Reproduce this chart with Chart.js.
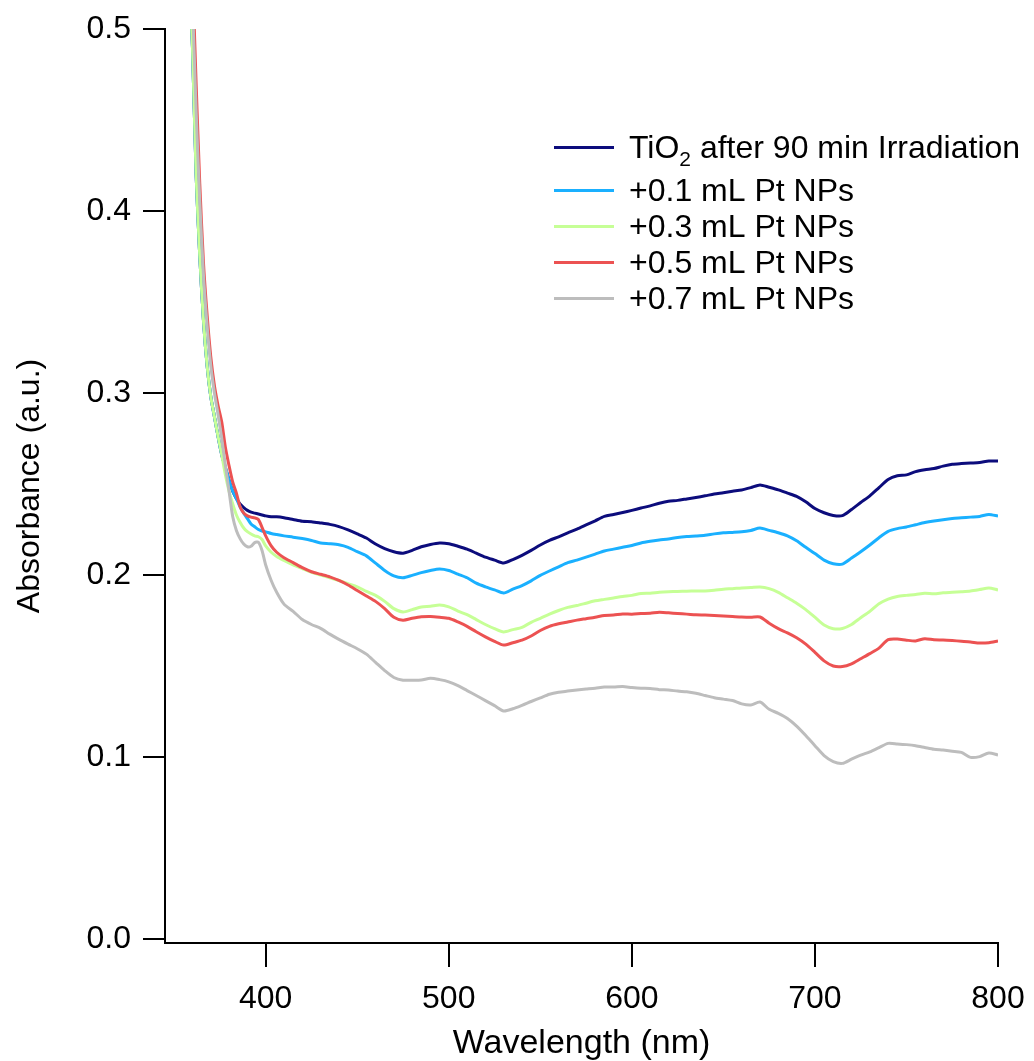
<!DOCTYPE html>
<html>
<head>
<meta charset="utf-8">
<script src="https://cdn.jsdelivr.net/npm/chart.js@4.4.1/dist/chart.umd.min.js"></script>
<style>
  html, body { margin: 0; padding: 0; background: #fff; overflow: hidden; }
  #wrap { width: 1034px; height: 1061px; position: relative; }
</style>
</head>
<body>
<div id="wrap"><canvas id="c" width="1034" height="1061"></canvas></div>
<script>
// ---------------- data ----------------
const wavelengths = [356,358,360,362,364,366,368,370,372,374,376,378,380,382,384,386,388,390,392,394,396,398,400,403,406,410,415,420,425,430,435,440,445,450,455,460,465,470,475,480,485,490,495,500,505,510,515,520,525,530,535,540,545,550,555,560,565,570,575,580,585,590,595,600,605,610,615,620,625,630,635,640,645,650,655,660,665,670,675,680,685,690,695,700,705,710,715,720,725,730,735,740,745,750,755,760,765,770,775,780,785,790,795,800];

const tio2 = [0.60,0.54,0.49,0.42,0.375,0.34,0.315,0.298,0.287,0.276,0.266,0.259,0.252,0.246,0.242,0.239,0.237,0.2355,0.2345,0.234,0.2335,0.233,0.2325,0.232,0.232,0.2315,0.2305,0.2295,0.2293,0.2286,0.2278,0.2266,0.2248,0.2226,0.2203,0.217,0.2145,0.2128,0.212,0.2135,0.2155,0.2168,0.2176,0.2172,0.2158,0.2142,0.212,0.2098,0.2082,0.2066,0.2085,0.2108,0.2135,0.2165,0.219,0.221,0.2232,0.2252,0.2275,0.2298,0.2322,0.2332,0.2343,0.2355,0.2368,0.238,0.2394,0.2405,0.241,0.2418,0.2426,0.2435,0.2445,0.2452,0.246,0.2467,0.248,0.2495,0.2482,0.2468,0.245,0.2432,0.2402,0.2365,0.2342,0.2327,0.2326,0.236,0.2398,0.2435,0.248,0.2525,0.2545,0.255,0.2568,0.2578,0.2585,0.2598,0.2608,0.2612,0.2615,0.2618,0.2626,0.2626];

const pt01 = [0.60,0.54,0.49,0.42,0.375,0.34,0.315,0.298,0.287,0.276,0.266,0.259,0.252,0.246,0.242,0.2375,0.234,0.231,0.228,0.2265,0.225,0.2242,0.2237,0.2228,0.2222,0.2215,0.2208,0.22,0.219,0.2176,0.2172,0.2166,0.2152,0.2128,0.2105,0.2065,0.2025,0.1995,0.1985,0.1998,0.2013,0.2025,0.2033,0.2025,0.2005,0.1985,0.1955,0.1935,0.1918,0.1901,0.1922,0.1942,0.1968,0.1998,0.2022,0.2045,0.2068,0.2082,0.2098,0.2115,0.2132,0.2142,0.2152,0.2162,0.2176,0.2185,0.2192,0.2198,0.2206,0.2211,0.2214,0.2218,0.2226,0.2232,0.2234,0.2237,0.2245,0.2258,0.2245,0.2232,0.2215,0.2188,0.2152,0.2118,0.2082,0.2062,0.206,0.2093,0.2128,0.2165,0.2205,0.224,0.2255,0.2264,0.2276,0.2288,0.2297,0.2304,0.231,0.2314,0.2318,0.2322,0.2333,0.2324];

const pt03 = [0.60,0.54,0.49,0.42,0.375,0.34,0.315,0.298,0.287,0.276,0.266,0.255,0.246,0.239,0.233,0.229,0.2258,0.2238,0.2225,0.2215,0.221,0.2195,0.216,0.2125,0.2102,0.208,0.2055,0.2035,0.2015,0.2,0.1985,0.197,0.1952,0.1935,0.191,0.1888,0.1855,0.1815,0.1797,0.181,0.1824,0.1828,0.1835,0.1825,0.1802,0.1782,0.1755,0.1728,0.1705,0.1687,0.17,0.1712,0.174,0.1762,0.1785,0.1805,0.1822,0.1832,0.1845,0.1858,0.1866,0.1874,0.1882,0.1888,0.1898,0.19,0.1905,0.1908,0.191,0.1911,0.1912,0.1912,0.1916,0.1922,0.1925,0.1929,0.1931,0.1934,0.1925,0.1905,0.1875,0.1845,0.181,0.1768,0.1725,0.1705,0.1706,0.1728,0.1765,0.18,0.1842,0.1868,0.1882,0.1888,0.1893,0.19,0.1897,0.1902,0.1905,0.1908,0.1912,0.192,0.1929,0.1918];

const pt05 = [0.62,0.58,0.53,0.47,0.415,0.372,0.343,0.32,0.304,0.293,0.284,0.27,0.26,0.251,0.245,0.2375,0.234,0.2325,0.2318,0.2314,0.2305,0.2262,0.2215,0.216,0.2125,0.2095,0.2068,0.204,0.2018,0.2004,0.199,0.197,0.1945,0.1915,0.1885,0.1855,0.1815,0.1768,0.1752,0.1762,0.177,0.1772,0.1768,0.1762,0.1742,0.1718,0.1688,0.166,0.1635,0.1615,0.1628,0.1642,0.1665,0.1695,0.1718,0.1732,0.1742,0.1752,0.176,0.1768,0.1778,0.178,0.1786,0.1785,0.1788,0.179,0.1795,0.1792,0.1788,0.1785,0.1781,0.178,0.1778,0.1775,0.1772,0.1769,0.1768,0.1769,0.1735,0.1705,0.1682,0.1655,0.162,0.1575,0.1528,0.15,0.1497,0.1512,0.154,0.1568,0.1598,0.1645,0.1648,0.1642,0.1638,0.165,0.1644,0.1643,0.164,0.1636,0.1632,0.1626,0.1628,0.1637];

const pt07 = [0.61,0.565,0.515,0.455,0.405,0.365,0.337,0.315,0.30,0.288,0.275,0.26,0.246,0.232,0.2245,0.22,0.217,0.2155,0.2158,0.2178,0.218,0.2135,0.2055,0.197,0.1905,0.184,0.18,0.1755,0.1728,0.1707,0.1675,0.1646,0.162,0.1595,0.1565,0.152,0.1475,0.1437,0.1422,0.1422,0.1423,0.1432,0.1425,0.1413,0.1392,0.1365,0.1338,0.131,0.1282,0.1253,0.1265,0.1284,0.1305,0.1325,0.1345,0.1356,0.1362,0.1368,0.1373,0.1378,0.1385,0.1384,0.1387,0.1382,0.1378,0.1376,0.137,0.1368,0.1362,0.1358,0.135,0.1338,0.1326,0.1318,0.131,0.1292,0.1286,0.1302,0.1262,0.124,0.1212,0.117,0.1118,0.1062,0.1008,0.0975,0.0965,0.0988,0.101,0.1028,0.1052,0.1075,0.1072,0.1068,0.1062,0.1052,0.1042,0.1038,0.1032,0.1025,0.0998,0.1002,0.1022,0.1011];

const seriesNames = ["TiO2 after 90 min Irradiation", "+0.1 mL Pt NPs", "+0.3 mL Pt NPs", "+0.5 mL Pt NPs", "+0.7 mL Pt NPs"];
const xTickValues = [400, 500, 600, 700, 800];
const yTickValues = [0.0, 0.1, 0.2, 0.3, 0.4, 0.5];

// ---------------- styling ----------------
const FONT = "'Liberation Sans', Arial, Helvetica, sans-serif";
const colors = ["#0c0c7c", "#1ab0ff", "#c6ff96", "#ec5252", "#bdbdbd"];
const seriesValues = [tio2, pt01, pt03, pt05, pt07];

Chart.defaults.font.family = FONT;
Chart.defaults.color = "#000";

const datasets = seriesValues.map((vals, i) => ({
  label: seriesNames[i],
  data: wavelengths.map((w, j) => ({ x: w, y: vals[j] })),
  borderColor: colors[i],
  backgroundColor: colors[i],
  borderWidth: 3,
  pointRadius: 0,
  tension: 0.25,
  fill: false,
  order: 5 - i
}));

// custom legend drawn inside plot area (with subscript)
const legendPlugin = {
  id: "insideLegend",
  afterDraw(chart) {
    const ctx = chart.ctx;
    ctx.save();
    const lineX0 = 554, lineX1 = 614, textX = 629;
    const baselines = [158, 201, 237, 273, 309];
    const mainFont = "32px " + FONT;
    ctx.textBaseline = "alphabetic";
    ctx.textAlign = "left";
    for (let i = 0; i < seriesNames.length; i++) {
      const b = baselines[i];
      ctx.strokeStyle = colors[i];
      ctx.lineWidth = 3;
      ctx.beginPath();
      ctx.moveTo(lineX0, b - 10.5);
      ctx.lineTo(lineX1, b - 10.5);
      ctx.stroke();
      ctx.fillStyle = "#000";
      ctx.font = mainFont;
      if (i === 0) {
        let x = textX;
        ctx.fillText("TiO", x, b);
        x += ctx.measureText("TiO").width;
        ctx.font = "21px " + FONT;
        ctx.fillText("2", x, b + 8);
        x += ctx.measureText("2").width;
        ctx.font = mainFont;
        ctx.fillText(" after 90 min Irradiation", x, b);
      } else {
        ctx.fillText(seriesNames[i], textX, b);
      }
    }
    ctx.restore();
  }
};

new Chart(document.getElementById("c"), {
  type: "line",
  data: { datasets },
  plugins: [legendPlugin],
  options: {
    responsive: false,
    animation: false,
    devicePixelRatio: 1,
    layout: { padding: { left: 0, top: 29, right: 36, bottom: 0 } },
    plugins: { legend: { display: false }, tooltip: { enabled: false } },
    scales: {
      x: {
        type: "linear",
        position: "bottom",
        min: 345,
        max: 800,
        afterBuildTicks: s => { s.ticks = xTickValues.map(v => ({ value: v })); },
        afterFit: s => { s.height = 118; s.paddingLeft = 0; s.paddingRight = 0; },
        border: { display: true, color: "#000", width: 2 },
        grid: { display: true, drawOnChartArea: false, drawTicks: true, tickLength: 24, color: "#000", lineWidth: 2 },
        ticks: { font: { size: 32 }, color: "#000", padding: 13, maxRotation: 0, autoSkip: false, callback: v => String(v) },
        title: { display: true, text: "Wavelength (nm)", color: "#000", font: { size: 34, lineHeight: 1.0 }, padding: { top: 0, bottom: 0 } }
      },
      y: {
        type: "linear",
        min: -0.0022,
        max: 0.5,
        afterBuildTicks: s => { s.ticks = yTickValues.map(v => ({ value: v })); },
        afterFit: s => { s.width = 165; s.paddingTop = 0; s.paddingBottom = 0; },
        border: { display: true, color: "#000", width: 2 },
        grid: { display: true, drawOnChartArea: false, drawTicks: true, tickLength: 22, color: "#000", lineWidth: 2 },
        ticks: { font: { size: 32 }, color: "#000", padding: 12, autoSkip: false, callback: v => Number(v).toFixed(1) },
        title: { display: true, text: "Absorbance (a.u.)", color: "#000", font: { size: 32, lineHeight: 1.0 }, padding: { top: 14, bottom: 0 } }
      }
    }
  }
});
</script>
</body>
</html>
